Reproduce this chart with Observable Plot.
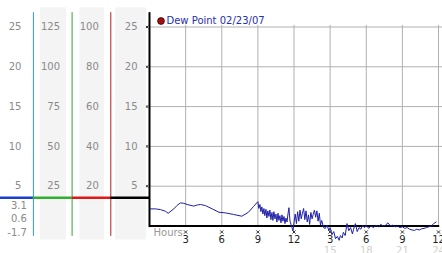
<!DOCTYPE html>
<html>
<head>
<meta charset="utf-8">
<script src="https://cdn.jsdelivr.net/npm/d3@7"></script>
<script src="https://cdn.jsdelivr.net/npm/@observablehq/plot@0.6"></script>
<style>
  body { margin: 0; background: #fff; }
  #chart { position: relative; width: 442px; height: 253px; overflow: hidden; }
  #chart svg { position: absolute; top: 0; }
</style>
</head>
<body>
<div id="chart"></div>
<script>
// ---- data ----
const seriesName = "Dew Point 02/23/07";
const hours = [
  0, 0.08, 0.5, 0.91, 1.33, 1.55, 2.02, 2.3, 2.57, 2.85, 3.13, 3.68, 4.0, 4.24, 4.65, 5.21, 5.76, 6.29, 6.98, 7.67, 8.22, 8.64, 9.0,
  9.08, 9.17, 9.25, 9.33, 9.42, 9.5, 9.58, 9.67, 9.75, 9.83, 9.92, 10.0, 10.08, 10.17, 10.25, 10.33, 10.42, 10.5, 10.58, 10.67, 10.75, 10.83, 10.92, 11.0, 11.08, 11.17, 11.25, 11.33, 11.42, 11.5, 11.58, 11.67, 11.75, 11.83, 11.92,
  12.0, 12.1, 12.2, 12.3, 12.4, 12.5, 12.6, 12.7, 12.8, 12.9, 13.0, 13.1, 13.2, 13.3, 13.4, 13.5, 13.6, 13.7, 13.8, 13.9, 14.0, 14.1, 14.2, 14.3, 14.45, 14.6, 14.75, 14.9,
  15.0, 15.15, 15.3, 15.45, 15.6, 15.75, 15.85, 16.0, 16.1, 16.25, 16.4, 16.55, 16.7, 16.85, 16.95, 17.1, 17.25, 17.4, 17.55, 17.7, 17.85,
  18.0, 18.2, 18.4, 18.6, 18.8, 19.0, 19.2, 19.4, 19.6, 19.8, 20.0, 20.2, 20.4, 20.6, 20.8, 21.0, 21.2, 21.4, 21.6, 21.8, 22.0, 22.2, 22.4, 22.6, 22.8, 23.0, 23.2, 23.4, 23.6, 23.8, 23.95
];
const dewPoint = [
  2.1, 2.15, 2.15, 2.06, 1.85, 1.6, 2.15, 2.6, 2.9, 2.85, 2.7, 2.5, 2.65, 2.7, 2.56, 2.15, 1.73, 1.65, 1.45, 1.23, 1.73, 2.45, 3.06,
  2.2, 2.7, 1.8, 2.4, 1.5, 2.2, 1.3, 2.1, 1.0, 1.9, 1.2, 2.0, 0.8, 1.7, 0.7, 1.8, 0.9, 1.5, 0.5, 1.6, 0.7, 1.3, 0.4, 1.4, 0.6, 1.2, 0.3, 1.0, 0.5, 1.5, 2.3, 0.6, 0.2, -0.2, -0.6,
  0.4, 1.5, 0.3, 1.8, 0.6, 2.0, 0.9, 1.6, 2.2, 0.8, 1.9, 0.5, 1.4, 0.2, 1.7, 0.9, 1.5, 2.0, 1.1, 1.9, 0.6, 1.6, 0.1, 0.7, -0.2, -0.3, 0.1,
  -0.6, -0.2, -1.1, -0.7, -1.6, -1.3, -1.8, -1.2, -1.5, -0.8, -1.2, 0.3, -0.6, -0.2, -1.0, -0.4, 0.3, -0.7, -0.2, -0.4, 0.1,
  -0.2, 0.1, -0.3, 0.0, -0.2, 0.1, -0.1, 0.2, 0.0, 0.1, 0.4, 0.0, 0.1, -0.1, 0.0, -0.2, -0.1, -0.3, -0.2, -0.4, -0.5, -0.55, -0.4, -0.5, -0.35, -0.3, -0.2, -0.1, 0.0, 0.3, 0.5
];
const yTicks = [5, 10, 15, 20, 25];
const xTicks = [3, 6, 9, 12, 15, 18, 21, 24];
const hourLabels = ["3", "6", "9", "12", "3", "6", "9", "12"];
const secondDayTicks = [15, 18, 21, 24];
const secondDayLabels = ["15", "18", "21", "24"];
// left panel: four parallel scale columns
const col1Labels = ["25", "20", "15", "10", "5"];
const col2Labels = ["125", "100", "75", "50", "25"];
const col3Labels = ["100", "80", "60", "40", "20"];
const col4Labels = ["25", "20", "15", "10", "5"];
const currentReadings = ["3.1", "0.6", "-1.7"];
const indicatorLevel = 3.55;

// ---- build ----
const data = hours.map((h, i) => ({h, v: dewPoint[i]}));
const font = "DejaVu Sans, Verdana, sans-serif";
const M = {marginTop: 26.5, marginBottom: 27.5};

const main = Plot.plot({
  width: 442, height: 253,
  marginLeft: 149, marginRight: 4, ...M,
  style: {fontFamily: font, fontSize: "10px", background: "transparent", overflow: "visible"},
  x: {domain: [0, 24], axis: null},
  y: {domain: [0, 25], axis: null},
  marks: [
    Plot.ruleY(yTicks, {x1: 0, x2: 24.35, stroke: "#b0b0b0", strokeWidth: 1}),
    Plot.ruleX(xTicks, {y1: 0, y2: 25.2, stroke: "#b0b0b0", strokeWidth: 1}),
    Plot.ruleY([0], {x1: 0, x2: 24.1, stroke: "#000", strokeWidth: 2}),
    Plot.line(data, {x: "h", y: "v", stroke: "#1f1fa8", strokeWidth: 1}),
    Plot.ruleX([0], {y1: -0.2, y2: 26.8, stroke: "#000", strokeWidth: 2}),
    Plot.dot(yTicks, {x: 0, y: d => d, dx: -2.5, symbol: "times", r: 1.6, stroke: "#333", strokeWidth: 1}),
    Plot.dot(xTicks, {x: d => d, y: 0, dy: 6, symbol: "times", r: 1.6, stroke: "#333", strokeWidth: 1}),
    Plot.text(xTicks, {x: d => d, y: 0, text: (d, i) => hourLabels[i], dy: 13.5, fontSize: 10, fill: "#222"}),
    Plot.text(secondDayTicks, {x: d => d, y: 0, text: (d, i) => secondDayLabels[i], dy: 24.5, fontSize: 10, fill: "#d0d0d0"}),
    Plot.text(["Hours"], {x: 0, y: 0, text: d => d, dx: 4, dy: 7, textAnchor: "start", fontSize: 10, fill: "#999"}),
    Plot.dot([seriesName], {x: 0, y: 25, dx: 11.5, dy: -6, r: 3.4, fill: "#a01010", stroke: "#400", strokeWidth: 0.8}),
    Plot.text([seriesName], {x: 0, y: 25, text: d => d, dx: 17, dy: -6, textAnchor: "start", fontSize: 10, fill: "#1f2fb0"})
  ]
});

const colLabelSets = [col1Labels, col2Labels, col3Labels, col4Labels];
const labelRows = colLabelSets.flatMap((labels, c) => labels.map((t, i) => ({c, y: yTicks[yTicks.length - 1 - i], t})));
const bands = [
  {x1: 1.18, x2: 1.86}, {x1: 2.2, x2: 2.84}, {x1: 3.12, x2: 3.92}
];
const separators = [
  {x: 1, color: "#3399cc"}, {x: 2, color: "#33a033"}, {x: 3, color: "#b02020"}
];
const indicatorSegs = [
  {x1: -0.2, x2: 1, color: "#1a3fd0"}, {x1: 1, x2: 2, color: "#2fb02f"},
  {x1: 2, x2: 3, color: "#e01818"}, {x1: 3, x2: 4, color: "#000"}
];

const left = Plot.plot({
  width: 149, height: 253,
  marginLeft: 0, marginRight: 0, ...M,
  style: {fontFamily: font, fontSize: "10px", background: "transparent", overflow: "visible"},
  x: {domain: [0, 4], range: [-5.8, 149], axis: null},
  y: {domain: [0, 25], axis: null},
  marks: [
    Plot.rect(bands, {x1: "x1", x2: "x2", y1: -1.75, y2: 27.4, fill: "#f4f4f4"}),
    Plot.ruleX(separators, {x: "x", y1: -1.3, y2: 26.8, stroke: "color", strokeWidth: 1}),
    Plot.ruleY(indicatorSegs, {y: () => indicatorLevel, x1: "x1", x2: "x2", stroke: "color", strokeWidth: 2.6}),
    Plot.text(labelRows, {x: d => d.c + 0.69, y: "y", text: "t", textAnchor: "end", fontSize: 10, fill: "#8a8a8a"}),
    ...currentReadings.map((t, i) => Plot.text([t], {x: 0.83, y: () => indicatorLevel, text: d => d, textAnchor: "end", dy: 8 + 13.5 * i, fontSize: 10, fill: "#8a8a8a"}))
  ]
});
left.style.left = "0px";
main.style.left = "0px";
const chart = document.getElementById("chart");
chart.appendChild(main);
chart.appendChild(left);
</script>
</body>
</html>
